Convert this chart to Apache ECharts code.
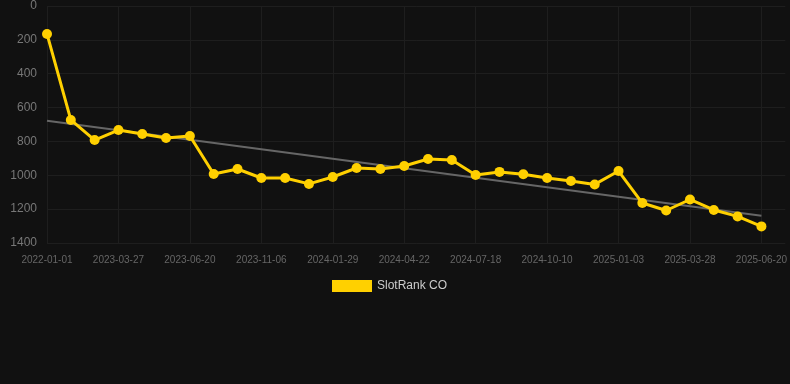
<!DOCTYPE html>
<html>
<head>
<meta charset="utf-8">
<script src="https://cdn.jsdelivr.net/npm/echarts@6/dist/echarts.min.js"></script>
<style>
html,body{margin:0;padding:0;background:#111111;}
#c{width:790px;height:384px;}
</style>
</head>
<body>
<div id="c"></div>
<script>
var categories = [
  '2022-01-01','2023-01-30','2023-02-27','2023-03-27','2023-04-24','2023-05-22',
  '2023-06-20','2023-08-14','2023-10-09','2023-11-06','2023-12-04','2024-01-01',
  '2024-01-29','2024-02-26','2024-03-25','2024-04-22','2024-05-20','2024-06-17',
  '2024-07-18','2024-08-15','2024-09-12','2024-10-10','2024-11-07','2024-12-05',
  '2025-01-03','2025-01-31','2025-02-28','2025-03-28','2025-04-25','2025-05-23',
  '2025-06-20',''
];
var rankValues = [
  165, 673, 792, 733, 756, 780,
  768, 992, 963, 1016, 1016, 1051,
  1010, 957, 963, 945, 904, 910,
  998, 980, 994, 1016, 1034, 1054,
  975, 1164, 1208, 1143, 1205, 1243,
  1302
];
var yTicks = { min: 0, max: 1400, interval: 200 };

// least-squares trend line over the series
var n = rankValues.length, sx = 0, sy = 0, sxy = 0, sxx = 0;
for (var i = 0; i < n; i++) { sx += i; sy += rankValues[i]; sxy += i * rankValues[i]; sxx += i * i; }
var slope = (n * sxy - sx * sy) / (n * sxx - sx * sx);
var icpt = (sy - slope * sx) / n;
var trend = [[0, icpt], [n - 1, icpt + slope * (n - 1)]];

var chart = echarts.init(document.getElementById('c'), null, { renderer: 'canvas' });
chart.setOption({
  backgroundColor: '#111111',
  animation: false,
  grid: { left: 47, right: 4, top: 6, bottom: 141, containLabel: false },
  legend: {
    data: ['SlotRank CO'],
    top: 275,
    left: 327,
    icon: 'rect',
    itemWidth: 40,
    itemHeight: 12,
    textStyle: { color: '#cccccc', fontSize: 12, fontFamily: 'Liberation Sans, Arial, sans-serif' }
  },
  xAxis: {
    type: 'category',
    data: categories,
    boundaryGap: false,
    axisLine: { show: false },
    axisTick: { show: false },
    axisLabel: { interval: 2, color: '#666666', fontSize: 10, margin: 12, fontFamily: 'Liberation Sans, Arial, sans-serif' },
    splitLine: { show: true, interval: 2, lineStyle: { color: '#1e1e1e', width: 1 } }
  },
  yAxis: {
    type: 'value',
    inverse: true,
    min: yTicks.min,
    max: yTicks.max,
    interval: yTicks.interval,
    axisLine: { show: false },
    axisTick: { show: false },
    axisLabel: {
      color: '#777777', fontSize: 12, margin: 10, fontFamily: 'Liberation Sans, Arial, sans-serif',
      formatter: function (v) { return String(v); }
    },
    splitLine: { show: true, lineStyle: { color: '#1e1e1e', width: 1 } }
  },
  series: [
    {
      name: 'SlotRank CO',
      type: 'line',
      data: rankValues,
      symbol: 'circle',
      symbolSize: 10,
      lineStyle: { color: '#FFD000', width: 3 },
      itemStyle: { color: '#FFD000' },
      z: 3
    },
    {
      name: 'trend',
      type: 'line',
      data: trend,
      symbol: 'none',
      lineStyle: { color: '#666666', width: 2 },
      z: 2,
      silent: true
    }
  ]
});
</script>
</body>
</html>
